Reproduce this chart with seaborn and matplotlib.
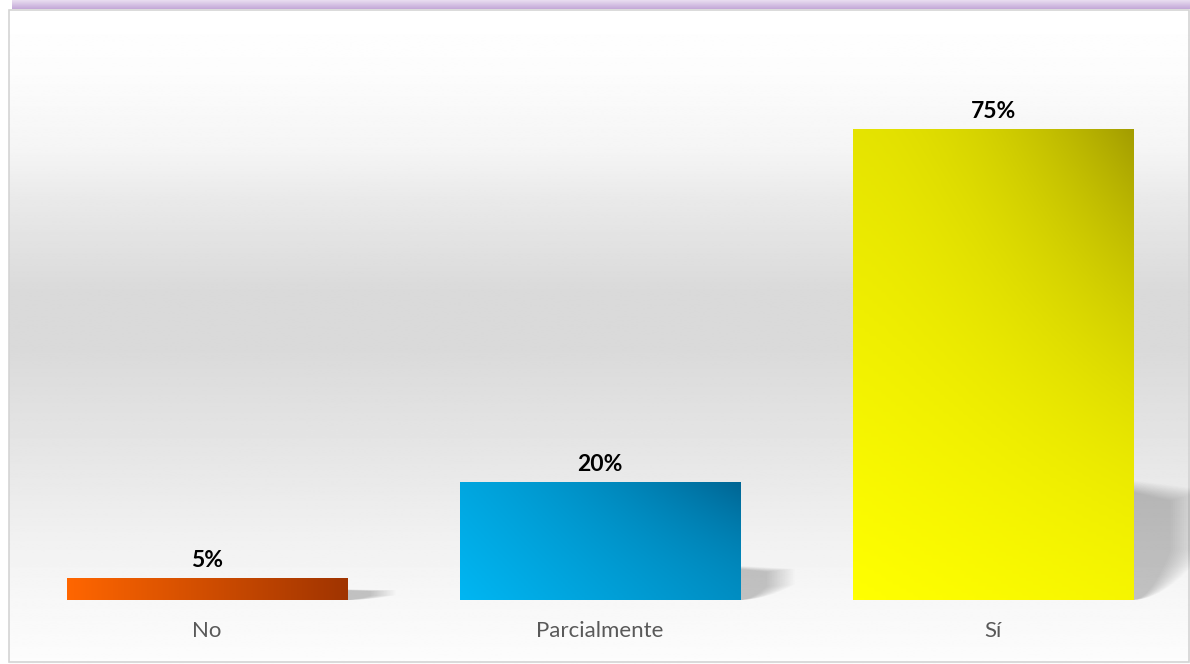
import numpy as np
import pandas as pd
import matplotlib
matplotlib.use("Agg")
import matplotlib.pyplot as plt
from matplotlib.colors import LinearSegmentedColormap
from matplotlib.patches import Rectangle, Polygon
import seaborn as sns

categories = ["No", "Parcialmente", "Sí"]
values = [5, 20, 75]
labels = ["5%", "20%", "75%"]
# colores del degradado (claro -> oscuro)
bar_grad = [("#ff6600", "#a03400"), ("#00b6f2", "#006593"), ("#ffff00", "#a39d00")]
# peso del degradado: horizontal, vertical, esquina superior derecha
grad_w = [(1.0, 0.0, 0.0), (0.5, 0.2, 0.3), (0.1, 0.28, 0.62)]

df = pd.DataFrame({"respuesta": categories, "pct": values})

sns.set_theme(style="white")
plt.rcParams["font.family"] = ["Lato", "DejaVu Sans"]

W, H = 1190, 664
fig = plt.figure(figsize=(W / 100, H / 100), dpi=100)
fig.patch.set_facecolor("white")

# fondo con degradado gris (blanco arriba y abajo)
bg = fig.add_axes([0, 0, 1, 1], zorder=0)
bg.set_xlim(0, W)
bg.set_ylim(H, 0)
bg.axis("off")
ys = np.linspace(10, H, 400)
prof = np.interp(ys, [10, 70, 150, 200, 290, 350, 450, 540, 600, 664],
                 [1.0, 0.99, 0.96, 0.915, 0.855, 0.855, 0.9, 0.945, 0.97, 0.99])
bg.imshow(np.tile(prof[:, None], (1, 2)), cmap="gray", vmin=0, vmax=1,
          extent=[9, W, H, 10], aspect="auto", interpolation="bilinear")
# borde del recuadro y franja morada superior
bg.add_patch(Rectangle((9, 10), W - 10, H - 12, fill=False, ec="#d4d4d4", lw=1.2))
purple = np.linspace(0, 1, 20)[:, None] * np.ones((20, 2))
pcm = LinearSegmentedColormap.from_list("p", ["#ede3f3", "#c4a9d8"])
bg.imshow(purple, cmap=pcm, extent=[12, W, 9.5, 0], aspect="auto", interpolation="bilinear")

ax = fig.add_axes([10 / W, (H - 600) / H, (W - 10) / W, (600 - 33) / H], zorder=1)
ax.patch.set_alpha(0)
sns.barplot(data=df, x="respuesta", y="pct", ax=ax, width=0.712,
            color="#cccccc", edgecolor="none", saturation=1)
ymin, ymax = 1.6, 89.9
for s in ax.spines.values():
    s.set_visible(False)
ax.set_yticks([])
ax.set_xlabel("")
ax.set_ylabel("")
ax.tick_params(axis="x", length=0, pad=15, labelsize=16, labelcolor="#595959")

phi = np.linspace(0, np.pi / 2, 30)

for patch, (c1, c2), (wx, wy, wc), lab in zip(ax.patches, bar_grad, grad_w, labels):
    x0 = patch.get_x()
    w, h = patch.get_width(), patch.get_height()
    y0 = ymin
    hv = h - ymin
    xr = x0 + w
    # sombra difusa proyectada hacia la derecha
    hs = 0.23 * hv + 0.8
    dx = 0.09 + 0.0007 * hv
    n = 18
    for k in range(n):
        sc = 1.35 - k * 0.04
        top = hs * (0.85 + 0.15 * sc)
        pts = [(xr, y0), (xr, y0 + top), (xr + dx * sc, y0 + top * 0.92)]
        # borde inferior convexo que sube hacia la derecha
        pts += [(xr + dx * sc * np.cos(p) ** 0.8, y0 + top * 0.45 * np.cos(p) ** 1.5)
                for p in phi]
        ax.add_patch(Polygon(pts, closed=True, fc="black", ec="none",
                             alpha=0.013, zorder=1))
    patch.set_zorder(2)
    # degradado en la barra (solo la parte visible)
    nx, ny = 120, 120
    xn, yn = np.meshgrid(np.linspace(0, 1, nx), np.linspace(0, 1, ny))
    t = np.clip(wx * xn + wy * yn + wc * (xn * yn) ** 2, 0, 1)
    cmap = LinearSegmentedColormap.from_list("g", [c1, c2])
    im = ax.imshow(t, cmap=cmap, vmin=0, vmax=1, origin="lower",
                   extent=[x0, x0 + w, y0, h], aspect="auto",
                   interpolation="bilinear", zorder=3)
    im.set_clip_path(patch)
    ax.text(x0 + w / 2, h + 1.1, lab, ha="center", va="bottom",
            fontsize=16.5, fontweight="bold", color="black", zorder=4)

ax.set_xlim(-0.5, 2.5)
ax.set_ylim(ymin, ymax)

fig.savefig("out.png", dpi=100)
